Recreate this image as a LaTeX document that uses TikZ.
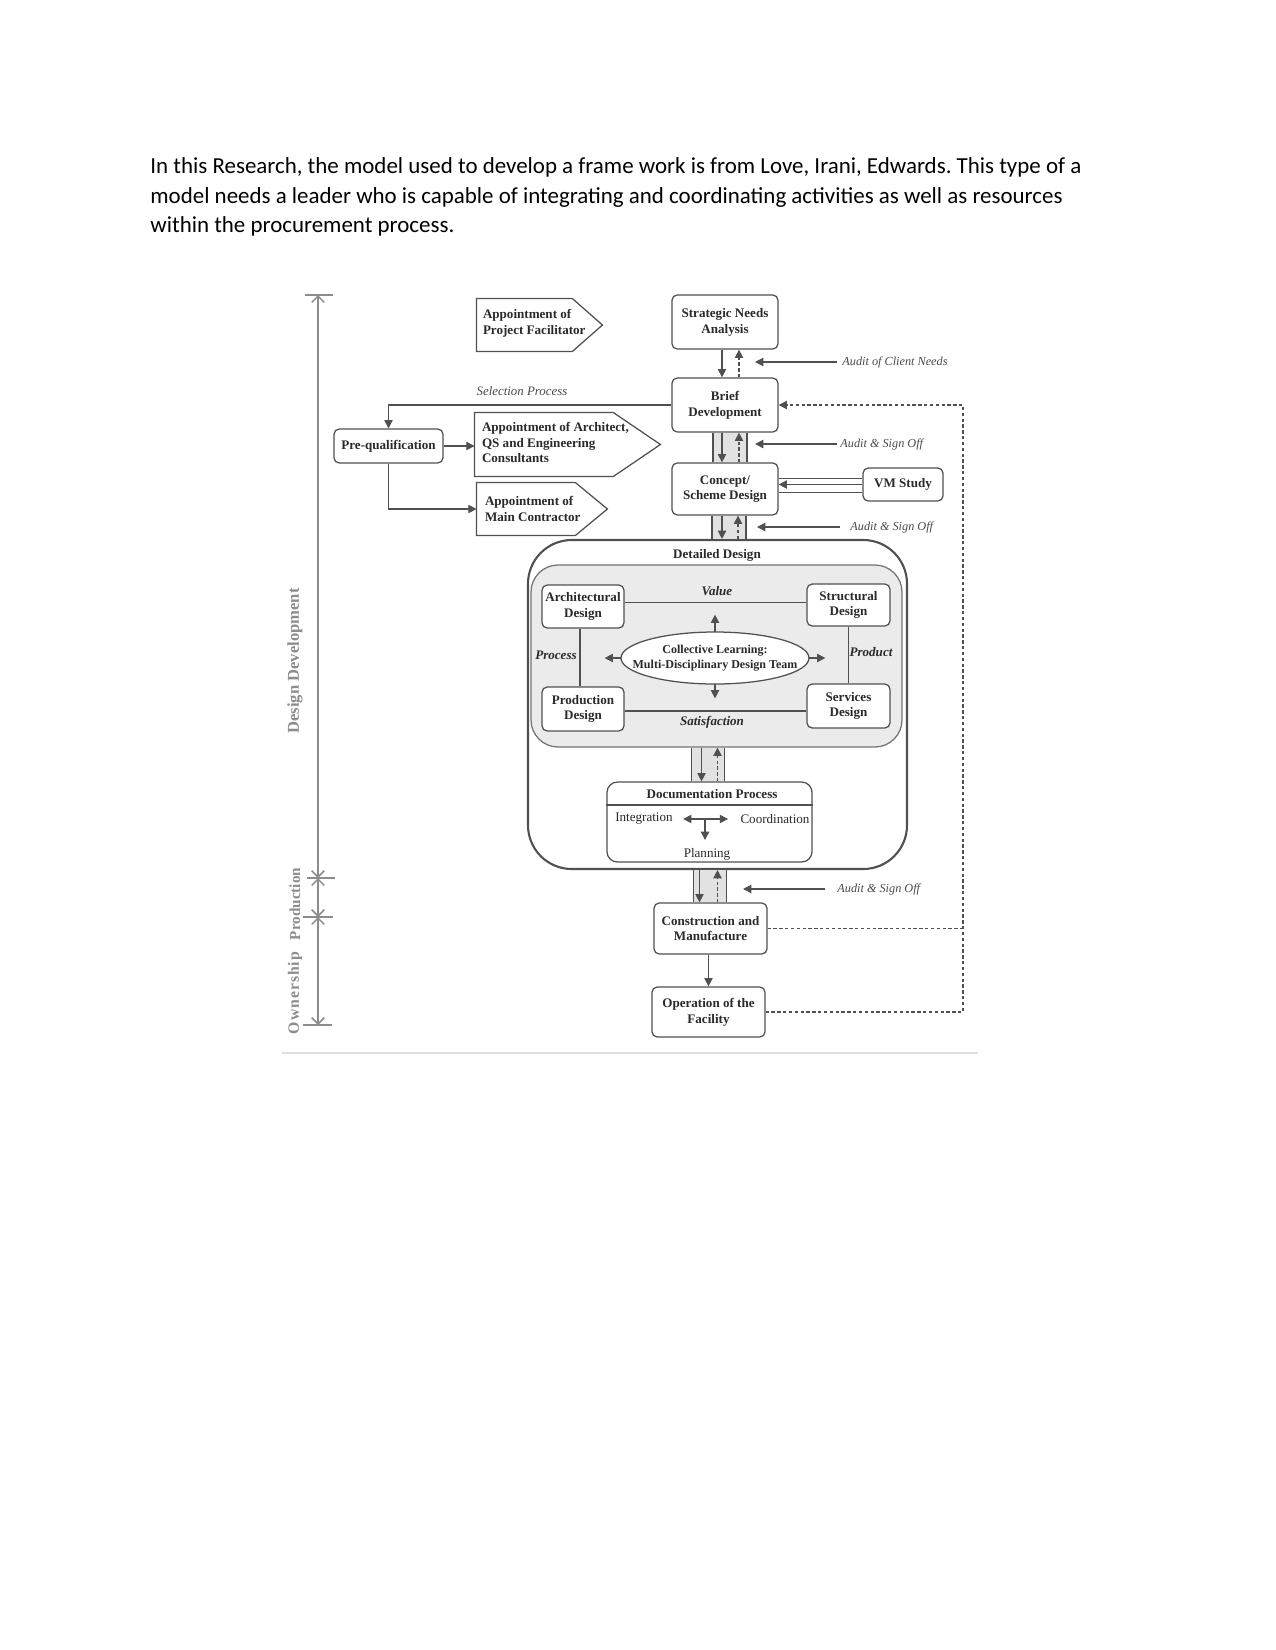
\documentclass[tikz,border=0pt]{standalone}
\usepackage{fontspec}
\setmainfont{Liberation Serif}
\newfontfamily\bodyfont{Carlito}
\usetikzlibrary{arrows.meta,calc,fit,shapes.geometric}
\definecolor{lc}{HTML}{505050}
\definecolor{tc}{HTML}{2A2A2A}
\definecolor{chf}{HTML}{E2E2E2}
\definecolor{igf}{HTML}{EBEBEB}
\definecolor{axc}{HTML}{8C8C8C}
\def\PX{*0.48bp}
\newcommand\mybox[4]{\node[box, fit={#2 #3}] (#1) {};\node[btxt] (#1-t) at (#1.center) {#4};}
\frenchspacing
\begin{document}
\begin{tikzpicture}[x=0.48bp,y=-0.48bp,
  box/.style={draw=lc, line width=0.6bp, rounded corners=2.5bp, fill=white, inner sep=0pt},
  body/.style={inner sep=0pt},
  pent/.style={draw=lc, line width=0.6bp, fill=white},
  pentt/.style={anchor=west, inner sep=0pt, align=left, text=tc, font=\bfseries\fontsize{6.3}{7.6}\selectfont},
  btxt/.style={inner sep=0pt, align=center, text=tc, font=\bfseries\fontsize{6.3}{7.6}\selectfont},
  bital/.style={inner sep=0pt, text=tc, font=\bfseries\itshape\fontsize{6.3}{7.6}\selectfont},
  ital/.style={inner sep=0pt, text=tc!85, font=\itshape\fontsize{5.9}{7}\selectfont},
  rtxt/.style={inner sep=0pt, text=tc, font=\fontsize{6.3}{7.6}\selectfont},
  ln/.style={draw=lc, line width=0.6bp},
  arr/.style={ln, -{Triangle[length=4bp,width=4bp]}},
  darr/.style={arr, dash pattern=on 1.6bp off 1.2bp},
  dln/.style={ln, dash pattern=on 1.6bp off 1.2bp},
  chan/.style={fill=chf},
  axl/.style={draw=axc, line width=0.7bp},
  axarr/.style={axl, {Straight Barb[length=3bp,width=6bp]}-{Straight Barb[length=3bp,width=6bp]}},
  axt/.style={rotate=90, inner sep=0pt, text=axc, font=\bfseries\fontsize{8}{9}\selectfont},
  ptext/.style={anchor=base west, inner sep=0pt, font=\bodyfont\fontsize{11.05}{13}\selectfont}
]
\useasboundingbox (0,0) rectangle (1275,1650);
\fill[white] (0,0) rectangle (1275,1650);

% paragraph
\node[ptext] (p1) at (150,173) {In this Research, the model used to develop a frame work is from Love, Irani, Edwards. This type of a};
\node[ptext] (p2) at (150,203) {model needs a leader who is capable of integrating and coordinating activities as well as resources};
\node[ptext] (p3) at (150,232) {within the procurement process.};

% left axis
\coordinate (a0) at (318,295);
\coordinate (a1) at (318,878);
\coordinate (a2) at (318,917);
\coordinate (a3) at (318,1025);
\draw[axarr] (a0) -- (a1);
\draw[axarr] (a1) -- (a2);
\draw[axarr] (a2) -- (a3);
\draw[axl] ($(a0)+(-13,0)$) -- ($(a0)+(15,0)$);
\draw[axl] ($(a1)+(-11,0)$) -- ($(a1)+(17,0)$);
\draw[axl] ($(a2)+(-15,0)$) -- ($(a2)+(15,0)$);
\draw[axl] ($(a3)+(-15,0)$) -- ($(a3)+(14,0)$);
\node[axt] (ldd) at (295,661) {Design Development};
\node[axt, font=\bfseries\fontsize{7.3}{9}\selectfont] (lpr) at (295,904) {Production};
\node[axt, font=\bfseries\fontsize{7.6}{9}\selectfont\addfontfeature{LetterSpace=6}] (low) at (295,993) {Ownership};

% main column
\mybox{sna}{(672,295)}{(778,349)}{Strategic Needs\\Analysis}
\mybox{brief}{(672,378)}{(778,432)}{Brief\\Development}
\mybox{concept}{(672,463)}{(778,515)}{Concept/\\Scheme Design}
\mybox{vm}{(863,468)}{(943,501)}{VM Study}

% pentagons
\node[body, fit={(477,299)(572,351)}] (pf) {};
\draw[pent] (pf.north west) -- (pf.north east) -- ($(pf.east)+(30,0)$) -- (pf.south east) -- (pf.south west) -- cycle;
\node[pentt] (pft) at ($(pf.west)+(6,-2)$) {Appointment of\\Project Facilitator};

\node[body, fit={(475,413)(613,476)}] (arch) {};
\draw[pent] (arch.north west) -- (arch.north east) -- ($(arch.east)+(47,0)$) -- (arch.south east) -- (arch.south west) -- cycle;
\node[pentt] (archt) at ($(arch.west)+(7,-2)$) {Appointment of Architect,\\QS and Engineering\\Consultants};

\node[body, fit={(477,483)(575,535)}] (mc) {};
\draw[pent] (mc.north west) -- (mc.north east) -- ($(mc.east)+(32,0)$) -- (mc.south east) -- (mc.south west) -- cycle;
\node[pentt] (mct) at ($(mc.west)+(8,0)$) {Appointment of\\Main Contractor};

\mybox{pq}{(334,429)}{(443,463)}{Pre-qualification}

% selection process
\node[ital, font=\itshape\fontsize{6.2}{7}\selectfont] (selt) at (522,391) {Selection Process};
\draw[arr] (brief.west) -- (brief.west -| pq.north) -- (pq.north);
\draw[arr] (pq.east) -- (pq.east -| arch.west);
\draw[arr] (pq.south) |- (mc.west);

% SNA -> Brief
\draw[arr] ($(sna.south)+(-3,0)$) -- ($(brief.north)+(-3,0)$);
\draw[darr] ($(brief.north)+(14,0)$) -- ($(sna.south)+(14,0)$);

% channel Brief -> Concept
\fill[chan] ($(brief.south)+(-12,0)$) rectangle ($(concept.north)+(22,0)$);
\draw[ln] ($(brief.south)+(-12,0)$) -- ($(concept.north)+(-12,0)$);
\draw[ln] ($(brief.south)+(22,0)$) -- ($(concept.north)+(22,0)$);
\draw[arr] ($(brief.south)+(-3,0)$) -- ($(concept.north)+(-3,0)$);
\draw[darr] ($(concept.north)+(14,0)$) -- ($(brief.south)+(14,0)$);

% VM -> Concept
\draw[ln] ($(vm.west)+(0,-6)$) -- ($(vm.west -| concept.east)+(0,-6)$);
\draw[ln] ($(vm.west)+(0,8)$) -- ($(vm.west -| concept.east)+(0,8)$);
\draw[arr] (vm.west) -- (vm.west -| concept.east);

% audit labels
\node[ital, anchor=west] (au1) at (842,362) {Audit of Client Needs};
\coordinate (au1e) at (755,362);
\draw[arr] ($(au1.west)+(-5,0)$) -- (au1e);
\node[ital, anchor=west] (au2) at (840,444) {Audit \& Sign Off};
\coordinate (au2e) at (755,444);
\draw[arr] ($(au2.west)+(-3,0)$) -- (au2e);
\node[ital, anchor=west] (au3) at (850,527) {Audit \& Sign Off};
\coordinate (au3e) at (757,527);
\draw[arr] ($(au3.west)+(-10,0)$) -- (au3e);
\node[ital, anchor=west] (au4) at (837,889) {Audit \& Sign Off};
\coordinate (au4e) at (743,889);
\draw[arr] ($(au4.west)+(-12,0)$) -- (au4e);

% detailed design
\node[fit={(528,540)(907,869)}, draw=lc, line width=1bp, rounded corners=21bp, inner sep=0pt, fill=white] (dd) {};
\node[btxt] (ddt) at (717,555) {Detailed Design};
\node[fit={(531,565)(902,747)}, draw=lc!80, line width=0.6bp, rounded corners=13bp, inner sep=0pt, fill=igf] (ig) {};

% channel Concept -> DD
\fill[chan] ($(concept.south)+(-13,0)$) rectangle ($(concept.south |- dd.north)+(21,0)$);
\draw[ln] ($(concept.south)+(-13,0)$) -- ($(concept.south |- dd.north)+(-13,0)$);
\draw[ln] ($(concept.south)+(21,0)$) -- ($(concept.south |- dd.north)+(21,0)$);
\draw[arr] ($(concept.south)+(-3,0)$) -- ($(concept.south |- dd.north)+(-3,0)$);
\draw[darr] ($(concept.south |- dd.north)+(13,0)$) -- ($(concept.south)+(13,0)$);

\mybox{ad}{(542,585)}{(624,628)}{Architectural\\Design}
\mybox{sd}{(807,584)}{(890,626)}{Structural\\Design}
\mybox{pd}{(542,687)}{(624,731)}{Production\\Design}
\mybox{svd}{(807,684)}{(890,728)}{Services\\Design}
\draw[ln] ($(ad.east)+(0,-4)$) -- ($(ad.east -| sd.west)+(0,-4)$);
\draw[ln] ($(pd.east)+(0,2)$) -- ($(pd.east -| svd.west)+(0,2)$);
\draw[ln] ($(ad.south)+(-3,0)$) -- ($(ad.south |- pd.north)+(-3,0)$);
\draw[ln] (sd.south) -- (sd.south |- svd.north);
\node[bital] (val) at (717,591) {Value};
\node[bital] (sat) at (712,722) {Satisfaction};
\node[bital] (proc) at (556,655) {Process};
\node[bital] (prod) at (871,652) {Product};

\node[minimum width=188\PX, minimum height=52\PX, inner sep=0pt] (cl) at (715,658) {};
\draw[ln, fill=white] (cl.center) ellipse [x radius=94, y radius=26];
\node[btxt, font=\bfseries\fontsize{5.8}{6.9}\selectfont] (cl-t) at (cl.center) {Collective Learning:\\Multi-Disciplinary Design Team};
\draw[arr] (cl.north) -- ($(cl.north)+(0,-17)$);
\draw[arr] (cl.south) -- ($(cl.south)+(0,14)$);
\draw[arr] (cl.west) -- ($(cl.west)+(-16,0)$);
\draw[arr] (cl.east) -- ($(cl.east)+(16,0)$);

% documentation
\node[box, fit={(607,782)(812,862)}, rounded corners=5bp] (doc) {};
\draw[ln] (doc.west |- 0,805) -- (doc.east |- 0,805);
\node[btxt] (doct) at (712,794) {Documentation Process};
\node[rtxt] (integ) at (644,819) {Integration};
\node[rtxt] (coord) at (775,819) {Coordination};
\node[rtxt] (plan) at (707,854) {Planning};
\coordinate (dc) at (705,819);
\draw[arr] (dc) -- ($(integ.east)+(10,0)$);
\draw[arr] (dc) -- ($(coord.west)+(-12,0)$);
\draw[arr] (dc) -- ($(dc)+(0,21)$);

% channel ig -> doc
\fill[chan] ($(doc.north |- ig.south)+(-18,0)$) rectangle ($(doc.north)+(15,0)$);
\draw[ln] ($(doc.north |- ig.south)+(-18,0)$) -- ($(doc.north)+(-18,0)$);
\draw[ln] ($(doc.north |- ig.south)+(15,0)$) -- ($(doc.north)+(15,0)$);
\draw[arr] ($(doc.north |- ig.south)+(-8,0)$) -- ($(doc.north)+(-8,0)$);
\draw[darr] ($(doc.north)+(8,0)$) -- ($(doc.north |- ig.south)+(8,0)$);

% construction & operation
\mybox{cons}{(654,903)}{(767,954)}{Construction and\\Manufacture}
\mybox{op}{(652,987)}{(765,1037)}{Operation of the\\Facility}
\fill[chan] ($(cons.north |- dd.south)+(-17,0)$) rectangle ($(cons.north)+(16,0)$);
\draw[ln] ($(cons.north |- dd.south)+(-17,0)$) -- ($(cons.north)+(-17,0)$);
\draw[ln] ($(cons.north |- dd.south)+(16,0)$) -- ($(cons.north)+(16,0)$);
\draw[arr] ($(cons.north |- dd.south)+(-11,0)$) -- ($(cons.north)+(-11,0)$);
\draw[darr] ($(cons.north)+(7,0)$) -- ($(cons.north |- dd.south)+(7,0)$);
\draw[arr] (op.north |- cons.south) -- (op.north);

% feedback
\coordinate (fbx) at (963,0);
\draw[dln] (cons.east) -- (cons.east -| fbx);
\draw[darr] (op.east) -- (op.east -| fbx) -- (brief.east -| fbx) -- (brief.east);

% image bottom edge
\draw[draw=black!12, line width=0.8bp] (282,1053) -- (978,1053);
\end{tikzpicture}
\end{document}
